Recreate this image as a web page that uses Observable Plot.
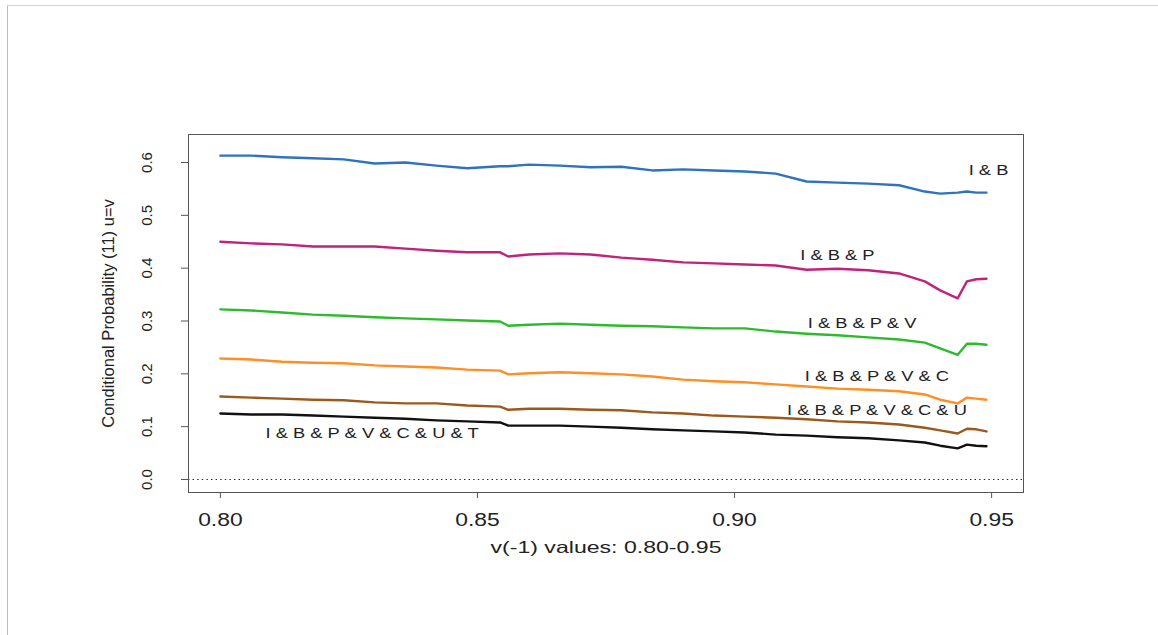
<!DOCTYPE html>
<html>
<head>
<meta charset="utf-8">
<script src="https://cdn.jsdelivr.net/npm/d3@7"></script>
<script src="https://cdn.jsdelivr.net/npm/@observablehq/plot@0.6"></script>
<style>
  html, body { margin: 0; padding: 0; background: #fff; }
  #chart { position: relative; width: 1158px; height: 635px; }
  #edge { position: absolute; left: 7px; top: 5px; right: 0; bottom: 0;
          border-left: 1px solid #bdbdbd; border-top: 1px solid #d2d2d2; pointer-events: none; }
  #chart svg { position: absolute; left: 0; top: 0; }
</style>
</head>
<body>
<div id="chart"><div id="edge"></div></div>
<script>
// v(-1) grid shared by every curve
const vGrid = [0.800, 0.806, 0.812, 0.818, 0.824, 0.830, 0.836, 0.842, 0.848, 0.8544,
               0.8560, 0.860, 0.866, 0.872, 0.878, 0.884, 0.890, 0.896, 0.902, 0.908,
               0.914, 0.920, 0.926, 0.932, 0.937, 0.940, 0.9434, 0.9452, 0.947, 0.949];

// conditional probability (11), u = v, for each combination
const probIB = [0.613, 0.613, 0.610, 0.608, 0.606, 0.598, 0.600, 0.594, 0.589, 0.593,
                0.593, 0.596, 0.594, 0.591, 0.592, 0.585, 0.587, 0.585, 0.583, 0.579,
                0.564, 0.562, 0.560, 0.557, 0.545, 0.541, 0.543, 0.545, 0.543, 0.543];
const probIBP = [0.450, 0.447, 0.445, 0.441, 0.441, 0.441, 0.437, 0.433, 0.430, 0.430,
                 0.422, 0.426, 0.428, 0.426, 0.420, 0.416, 0.411, 0.409, 0.407, 0.405,
                 0.397, 0.399, 0.396, 0.390, 0.375, 0.358, 0.343, 0.375, 0.379, 0.380];
const probIBPV = [0.322, 0.320, 0.316, 0.312, 0.310, 0.307, 0.305, 0.303, 0.301, 0.299,
                  0.291, 0.293, 0.295, 0.293, 0.291, 0.290, 0.288, 0.286, 0.286, 0.280,
                  0.276, 0.273, 0.269, 0.265, 0.259, 0.248, 0.236, 0.257, 0.257, 0.255];
const probIBPVC = [0.229, 0.227, 0.223, 0.221, 0.220, 0.216, 0.214, 0.212, 0.208, 0.206,
                   0.199, 0.201, 0.203, 0.201, 0.199, 0.195, 0.189, 0.186, 0.184, 0.180,
                   0.176, 0.172, 0.170, 0.167, 0.161, 0.151, 0.144, 0.155, 0.153, 0.151];
const probIBPVCU = [0.157, 0.155, 0.153, 0.151, 0.150, 0.146, 0.144, 0.144, 0.140, 0.138,
                    0.132, 0.134, 0.134, 0.132, 0.131, 0.127, 0.125, 0.121, 0.119, 0.117,
                    0.114, 0.110, 0.108, 0.104, 0.098, 0.093, 0.087, 0.096, 0.095, 0.091];
const probIBPVCUT = [0.125, 0.123, 0.123, 0.121, 0.119, 0.117, 0.115, 0.112, 0.110, 0.108,
                     0.102, 0.102, 0.102, 0.100, 0.098, 0.095, 0.093, 0.091, 0.089, 0.085,
                     0.083, 0.080, 0.078, 0.074, 0.070, 0.064, 0.059, 0.066, 0.064, 0.063];

const seriesNames = ["I & B", "I & B & P", "I & B & P & V", "I & B & P & V & C",
                     "I & B & P & V & C & U", "I & B & P & V & C & U & T"];
const seriesValues = [probIB, probIBP, probIBPV, probIBPVC, probIBPVCU, probIBPVCUT];
const seriesColors = ["#2f72c0", "#c0237a", "#2cbb2c", "#ff8e24", "#9a5a1c", "#111111"];

// where each curve's name is written
const labelV = [0.9494, 0.9200, 0.9248, 0.9277, 0.9277, 0.8295];
const labelP = [0.585, 0.424, 0.295, 0.195, 0.131, 0.087];

const xTicks = [0.80, 0.85, 0.90, 0.95];
const yTicks = [0.0, 0.1, 0.2, 0.3, 0.4, 0.5, 0.6];
const xTickLabels = xTicks.map(d3.format(".2f"));
const xTitle = "v(-1) values: 0.80-0.95";
const yTitle = "Conditional Probability (11) u=v";

const rows = seriesNames.flatMap((name, s) =>
  vGrid.map((v, i) => ({ v, p: seriesValues[s][i], series: name })));
const labels = seriesNames.map((name, s) => ({ name, v: labelV[s], p: labelP[s] }));

const chart = Plot.plot({
  width: 1158,
  height: 635,
  marginLeft: 188,
  marginRight: 135,
  marginTop: 134,
  marginBottom: 143,
  style: { fontFamily: "'Liberation Sans', Arial, Helvetica, sans-serif", background: "transparent", color: "#222" },
  x: { domain: [0.7938, 0.9562] },
  y: { domain: [-0.0246, 0.653] },
  color: { domain: seriesNames, range: seriesColors },
  marks: [
    Plot.ruleY([0], { stroke: "#222", strokeWidth: 1.2, strokeDasharray: "1.4,3.2" }),
    Plot.line(rows, { x: "v", y: "p", z: "series", stroke: "series", strokeWidth: 2.4 }),
    Plot.frame({ stroke: "#555", strokeWidth: 1 }),
    Plot.axisX({ ticks: xTicks, tickFormat: d3.format(".2f"), tickSize: 6, tickPadding: 15,
                 fontSize: 18, stroke: "#555", label: null }),
    Plot.axisY({ ticks: yTicks, tickSize: 7, tickFormat: () => "", stroke: "#555", label: null }),
    Plot.text(yTicks, { y: d => d, text: d => d3.format(".1f")(d), frameAnchor: "left",
                        textAnchor: "middle", dx: -41, rotate: -90, fontSize: 15, fill: "#222" }),
    Plot.text([yTitle], { frameAnchor: "left", textAnchor: "middle", dx: -80,
                          rotate: -90, fontSize: 16.5, fill: "#222" }),
    Plot.text([xTitle], { frameAnchor: "bottom", textAnchor: "middle", dy: 60,
                          fontSize: 16.5, fill: "#222" }),
    Plot.text(labels, { x: "v", y: "p", text: "name", fontSize: 14, fill: "#222" })
  ]
});

// horizontal lettering is drawn wide: stretch it about its anchor point
d3.select(chart).selectAll("text").each(function () {
  const t = this.textContent;
  let k = 0;
  if (seriesNames.includes(t)) k = 1.31;
  else if (t === xTitle) k = 1.4;
  else if (xTickLabels.includes(t)) k = 1.27;
  if (k) {
    const tr = this.getAttribute("transform") || "";
    this.setAttribute("transform", (tr + ` scale(${k},1)`).trim());
  }
});

document.getElementById("chart").appendChild(chart);
</script>
</body>
</html>
